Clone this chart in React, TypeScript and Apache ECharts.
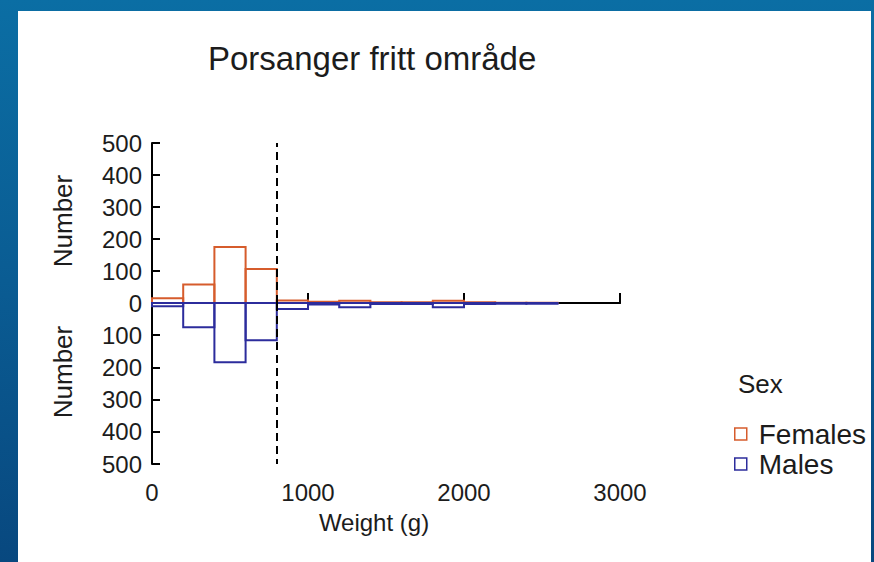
import React, { useEffect, useRef } from "react";
import * as echarts from "echarts";

const binStarts = [0, 200, 400, 600, 800, 1000, 1200, 1400, 1600, 1800, 2000, 2200, 2400, 2600, 2800];
const binWidth = 200;
const females = [15, 58, 175, 106, 8, 4, 7, 2, 2, 7, 2, 1, 1, 0, 0];
const males = [10, 75, 184, 116, 19, 5, 13, 3, 3, 13, 3, 2, 2, 0, 0];
const xTicks = [0, 1000, 2000, 3000];
const yTicks = [0, 100, 200, 300, 400, 500];
const dividerWeight = 800;

const FEMALE_COLOR = "#d65c2c";
const MALE_COLOR = "#2c2c9c";
const FONT = "Liberation Sans, Arial, sans-serif";
const TEXT = "#1c1c1c";

function makeRender(color: string) {
  return (params: any, api: any) => {
    const x0 = api.value(0);
    const x1 = api.value(1);
    const v = api.value(2);
    if (!v) return null;
    const p0 = api.coord([x0, v]);
    const p1 = api.coord([x1, 0]);
    return {
      type: "rect",
      shape: {
        x: p0[0],
        y: Math.min(p0[1], p1[1]),
        width: p1[0] - p0[0],
        height: Math.abs(p1[1] - p0[1]),
      },
      style: { fill: "none", stroke: color, lineWidth: 2 },
    };
  };
}

export default function App() {
  const ref = useRef<HTMLDivElement>(null);
  useEffect(() => {
    if (!ref.current) return;
    const chart = echarts.init(ref.current, null, { renderer: "svg" });
    const femaleData = binStarts.map((s, i) => [s, s + binWidth, females[i]]);
    const maleData = binStarts.map((s, i) => [s, s + binWidth, males[i]]);
    const xMax = xTicks[xTicks.length - 1];
    const yMax = yTicks[yTicks.length - 1];

    const xAxisCommon = {
      type: "value",
      min: 0,
      max: xMax,
      interval: 1000,
      axisLine: { show: true, lineStyle: { color: "#000", width: 2 } },
      axisTick: { show: true, inside: true, length: 10, lineStyle: { color: "#000", width: 2 } },
      splitLine: { show: false },
    };
    const yAxisCommon = {
      type: "value",
      min: 0,
      max: yMax,
      interval: 100,
      axisLine: { show: true, lineStyle: { color: "#000", width: 2 } },
      axisTick: { show: true, inside: true, length: 8, lineStyle: { color: "#000", width: 2 } },
      splitLine: { show: false },
      axisLabel: { color: TEXT, fontSize: 24, fontFamily: FONT, margin: 10 },
    };
    const markLine = {
      silent: true,
      symbol: "none",
      label: { show: false },
      lineStyle: { color: "#000", type: [8, 5], width: 2 },
      data: [{ xAxis: dividerWeight }],
    };

    chart.setOption({
      animation: false,
      title: {
        text: "Porsanger fritt område",
        left: 208,
        top: 42,
        padding: 0,
        textStyle: { fontSize: 33, fontWeight: "normal", color: TEXT, fontFamily: FONT },
      },
      grid: [
        { left: 152, top: 143, width: 468, height: 160 },
        { left: 152, top: 303, width: 468, height: 161 },
      ],
      xAxis: [
        { ...xAxisCommon, gridIndex: 0, axisLabel: { show: false } },
        {
          ...xAxisCommon,
          gridIndex: 1,
          axisLabel: {
            show: true,
            color: TEXT,
            fontSize: 24,
            fontFamily: FONT,
            margin: 16,
            formatter: (v: number) => String(v),
          },
        },
      ],
      yAxis: [
        { ...yAxisCommon, gridIndex: 0 },
        {
          ...yAxisCommon,
          gridIndex: 1,
          inverse: true,
          axisLabel: {
            ...yAxisCommon.axisLabel,
            formatter: (v: number) => (v === 0 ? "" : String(v)),
          },
        },
      ],
      legend: {
        orient: "vertical",
        left: 729,
        top: 415,
        itemWidth: 12,
        itemHeight: 12,
        itemGap: 2,
        icon: "rect",
        textStyle: { fontSize: 28, color: TEXT, fontFamily: FONT, padding: [0, 0, 0, 7] },
        data: [
          { name: "Females", itemStyle: { color: "#fff", borderColor: FEMALE_COLOR, borderWidth: 1.5 } },
          { name: "Males", itemStyle: { color: "#fff", borderColor: MALE_COLOR, borderWidth: 1.5 } },
        ],
      },
      graphic: [
        {
          type: "text",
          x: 738,
          y: 384,
          style: { text: "Sex", fontSize: 26, fill: TEXT, fontFamily: FONT, verticalAlign: "middle" },
        },
        {
          type: "text",
          x: 63,
          y: 221,
          rotation: Math.PI / 2,
          style: { text: "Number", fontSize: 26, fill: TEXT, fontFamily: FONT, align: "center", verticalAlign: "middle" },
        },
        {
          type: "text",
          x: 63,
          y: 372,
          rotation: Math.PI / 2,
          style: { text: "Number", fontSize: 26, fill: TEXT, fontFamily: FONT, align: "center", verticalAlign: "middle" },
        },
        {
          type: "text",
          x: 374,
          y: 522,
          style: { text: "Weight (g)", fontSize: 24, fill: TEXT, fontFamily: FONT, align: "center", verticalAlign: "middle" },
        },
      ],
      series: [
        {
          name: "Females",
          type: "custom",
          xAxisIndex: 0,
          yAxisIndex: 0,
          z: 3,
          itemStyle: { color: FEMALE_COLOR },
          encode: { x: [0, 1], y: 2 },
          renderItem: makeRender(FEMALE_COLOR),
          data: femaleData,
          markLine,
        },
        {
          name: "Males",
          type: "custom",
          xAxisIndex: 1,
          yAxisIndex: 1,
          z: 4,
          itemStyle: { color: MALE_COLOR },
          encode: { x: [0, 1], y: 2 },
          renderItem: makeRender(MALE_COLOR),
          data: maleData,
          markLine,
        },
      ],
    });
    return () => chart.dispose();
  }, []);

  return (
    <div
      style={{
        position: "fixed",
        left: 0,
        top: 0,
        width: 874,
        height: 562,
        background: "linear-gradient(180deg, #0b6ea4 0%, #0a5c93 50%, #08487f 100%)",
        overflow: "hidden",
      }}
    >
      <div style={{ position: "absolute", left: 18, top: 11, width: 853, height: 551, background: "#fff" }} />
      <div ref={ref} style={{ position: "absolute", left: 0, top: 0, width: 874, height: 562 }} />
    </div>
  );
}
